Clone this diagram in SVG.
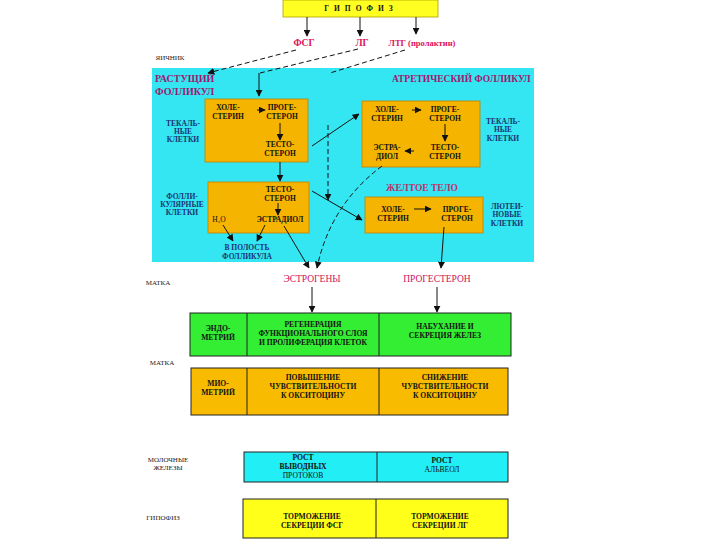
<svg xmlns="http://www.w3.org/2000/svg" width="720" height="540" viewBox="0 0 720 540">
<style>
text{font-family:"Liberation Serif","Times New Roman",serif;text-anchor:middle;font-weight:bold}
.s{font-size:7.5px;fill:#111}
.t{font-size:7.6px;fill:#111}
.n{font-size:7.5px;fill:#1a3470}
.lab{font-size:7px;fill:#222;font-weight:normal}
.h{font-size:9.5px;fill:#e0105a}
.p{font-size:10px;fill:#a0186e;text-anchor:start}
.m{font-size:9.5px;fill:#d0105a;font-weight:normal}
.box{fill:#f5b400;stroke:#c08000;stroke-width:0.8}
.ln{stroke:#111;stroke-width:1;fill:none}
.dl{stroke:#111;stroke-width:1;fill:none;stroke-dasharray:5 3}
.tb{stroke:#222;stroke-width:1}
</style>
<defs>
<marker id="a" viewBox="0 0 10 10" refX="9" refY="5" markerWidth="7" markerHeight="7" markerUnits="userSpaceOnUse" orient="auto"><path d="M0,0L10,5L0,10z" fill="#111"/></marker>
</defs>
<rect width="720" height="540" fill="#fff"/>

<g id="gipofiz">
<rect x="283" y="0" width="155" height="17" fill="#ffff22" stroke="#b0a000" stroke-width="0.8"/>
<text class="s" x="361" y="11" letter-spacing="5">ГИПОФИЗ</text>
</g>
<g id="hormones">
<text class="h" x="304" y="46">ФСГ</text>
<text class="h" x="362" y="46">ЛГ</text>
<text class="h" x="422" y="46" style="font-size:8.5px">ЛТГ (пролактин)</text>
</g>
<text class="lab" x="170" y="60">ЯИЧНИК</text>

<g id="ovary">
<rect x="152" y="68" width="382" height="194" fill="#33e6f2"/>
<text class="p" x="155" y="82">РАСТУЩИЙ</text>
<text class="p" x="155" y="95">ФОЛЛИКУЛ</text>
<text class="p" x="392" y="82" style="font-size:9.5px">АТРЕТИЧЕСКИЙ ФОЛЛИКУЛ</text>
</g>

<g id="theca1">
<rect class="box" x="205" y="99" width="103" height="63"/>
<text class="s" x="228" y="110">ХОЛЕ-</text>
<text class="s" x="228" y="119">СТЕРИН</text>
<text class="s" x="282" y="110">ПРОГЕ-</text>
<text class="s" x="282" y="119">СТЕРОН</text>
<text class="s" x="280" y="147">ТЕСТО-</text>
<text class="s" x="280" y="156">СТЕРОН</text>
<text class="n" x="183" y="126">ТЕКАЛЬ-</text>
<text class="n" x="183" y="134">НЫЕ</text>
<text class="n" x="183" y="142">КЛЕТКИ</text>
</g>

<g id="foll">
<rect class="box" x="208" y="182" width="101" height="51"/>
<text class="s" x="280" y="192">ТЕСТО-</text>
<text class="s" x="280" y="201">СТЕРОН</text>
<text class="s" x="219" y="222" style="font-weight:normal">H₂O</text>
<text class="s" x="280" y="222">ЭСТРАДИОЛ</text>
<text class="n" x="182" y="199">ФОЛЛИ-</text>
<text class="n" x="182" y="207">КУЛЯРНЫЕ</text>
<text class="n" x="182" y="215">КЛЕТКИ</text>
<text class="n" x="247" y="250">В ПОЛОСТЬ</text>
<text class="n" x="247" y="259">ФОЛЛИКУЛА</text>
</g>

<g id="atretic">
<rect class="box" x="362" y="101" width="118" height="66"/>
<text class="s" x="387" y="112">ХОЛЕ-</text>
<text class="s" x="387" y="121">СТЕРИН</text>
<text class="s" x="445" y="112">ПРОГЕ-</text>
<text class="s" x="445" y="121">СТЕРОН</text>
<text class="s" x="445" y="150">ТЕСТО-</text>
<text class="s" x="445" y="159">СТЕРОН</text>
<text class="s" x="387" y="150">ЭСТРА-</text>
<text class="s" x="387" y="159">ДИОЛ</text>
<text class="n" x="503" y="124">ТЕКАЛЬ-</text>
<text class="n" x="503" y="132">НЫЕ</text>
<text class="n" x="503" y="141">КЛЕТКИ</text>
</g>

<g id="luteum">
<text class="p" x="422" y="191" style="text-anchor:middle;font-size:9.5px;fill:#c0306a">ЖЕЛТОЕ ТЕЛО</text>
<rect class="box" x="365" y="197" width="118" height="36"/>
<text class="s" x="393" y="212">ХОЛЕ-</text>
<text class="s" x="393" y="221">СТЕРИН</text>
<text class="s" x="457" y="212">ПРОГЕ-</text>
<text class="s" x="457" y="221">СТЕРОН</text>
<text class="n" x="507" y="209">ЛЮТЕИ-</text>
<text class="n" x="507" y="217">НОВЫЕ</text>
<text class="n" x="507" y="226">КЛЕТКИ</text>
</g>

<g id="products">
<text class="m" x="312" y="282">ЭСТРОГЕНЫ</text>
<text class="m" x="437" y="282">ПРОГЕСТЕРОН</text>
</g>

<text class="lab" x="158" y="285">МАТКА</text>
<text class="lab" x="162" y="365">МАТКА</text>

<g id="endometrium">
<rect x="190" y="313" width="321" height="43" fill="#33ee33" class="tb"/>
<line class="tb" x1="247" y1="313" x2="247" y2="356"/>
<line class="tb" x1="379" y1="313" x2="379" y2="356"/>
<text class="t" x="218" y="331">ЭНДО-</text>
<text class="t" x="218" y="340">МЕТРИЙ</text>
<text class="t" x="313" y="327">РЕГЕНЕРАЦИЯ</text>
<text class="t" x="313" y="336">ФУНКЦИОНАЛЬНОГО СЛОЯ</text>
<text class="t" x="313" y="345">И ПРОЛИФЕРАЦИЯ КЛЕТОК</text>
<text class="t" x="445" y="329">НАБУХАНИЕ И</text>
<text class="t" x="445" y="338">СЕКРЕЦИЯ ЖЕЛЕЗ</text>
</g>

<g id="myometrium">
<rect x="191" y="368" width="317" height="47" fill="#f8bb00" class="tb"/>
<line class="tb" x1="247" y1="368" x2="247" y2="415"/>
<line class="tb" x1="379" y1="368" x2="379" y2="415"/>
<text class="t" x="218" y="386">МИО-</text>
<text class="t" x="218" y="395">МЕТРИЙ</text>
<text class="t" x="313" y="380">ПОВЫШЕНИЕ</text>
<text class="t" x="313" y="389">ЧУВСТВИТЕЛЬНОСТИ</text>
<text class="t" x="313" y="398">К ОКСИТОЦИНУ</text>
<text class="t" x="445" y="380">СНИЖЕНИЕ</text>
<text class="t" x="445" y="389">ЧУВСТВИТЕЛЬНОСТИ</text>
<text class="t" x="445" y="398">К ОКСИТОЦИНУ</text>
</g>

<text class="lab" x="168" y="462">МОЛОЧНЫЕ</text>
<text class="lab" x="168" y="470">ЖЕЛЕЗЫ</text>
<g id="mammary">
<rect x="244" y="452" width="264" height="30" fill="#22eef5" class="tb"/>
<line class="tb" x1="377" y1="452" x2="377" y2="482"/>
<text class="t" x="303" y="460">РОСТ</text>
<text class="t" x="303" y="469">ВЫВОДНЫХ</text>
<text class="t" x="303" y="478" style="font-weight:normal">ПРОТОКОВ</text>
<text class="t" x="442" y="463">РОСТ</text>
<text class="t" x="442" y="472" style="font-weight:normal">АЛЬВЕОЛ</text>
</g>

<text class="lab" x="163" y="520">ГИПОФИЗ</text>
<g id="pituitary-row">
<rect x="243" y="499" width="265" height="39" fill="#ffff1a" class="tb"/>
<line class="tb" x1="376" y1="499" x2="376" y2="538"/>
<text class="t" x="312" y="519">ТОРМОЖЕНИЕ</text>
<text class="t" x="312" y="528">СЕКРЕЦИИ ФСГ</text>
<text class="t" x="440" y="519">ТОРМОЖЕНИЕ</text>
<text class="t" x="440" y="528">СЕКРЕЦИИ ЛГ</text>
</g>

<g id="connectors">
<line class="ln" x1="307" y1="17" x2="307" y2="36" marker-end="url(#a)"/>
<line class="ln" x1="360" y1="17" x2="360" y2="36" marker-end="url(#a)"/>
<line class="ln" x1="416" y1="17" x2="416" y2="34" marker-end="url(#a)"/>
<line class="dl" x1="296" y1="50" x2="208" y2="73" marker-end="url(#a)"/>
<polyline class="dl" points="358,49 260,73"/>
<line class="ln" x1="259" y1="73" x2="259" y2="96" marker-end="url(#a)"/>
<line class="dl" x1="405" y1="50" x2="330" y2="73"/>
<line class="ln" x1="257" y1="110" x2="265" y2="110" marker-end="url(#a)"/>
<line class="ln" x1="280" y1="123" x2="280" y2="140" marker-end="url(#a)"/>
<line class="ln" x1="280" y1="162" x2="280" y2="181" marker-end="url(#a)"/>
<line class="ln" x1="278" y1="203" x2="278" y2="215" marker-end="url(#a)"/>
<line class="ln" x1="312" y1="146" x2="359" y2="114" marker-end="url(#a)"/>
<line class="dl" x1="328" y1="125" x2="328" y2="200" marker-end="url(#a)"/>
<line class="ln" x1="312" y1="191" x2="362" y2="220" marker-end="url(#a)"/>
<line class="ln" x1="412" y1="110" x2="421" y2="110" marker-end="url(#a)"/>
<line class="ln" x1="445" y1="124" x2="445" y2="141" marker-end="url(#a)"/>
<line class="ln" x1="414" y1="151" x2="405" y2="151" marker-end="url(#a)"/>
<line class="ln" x1="414" y1="209" x2="431" y2="209" marker-end="url(#a)"/>
<line class="ln" x1="223" y1="225" x2="233" y2="241" marker-end="url(#a)"/>
<line class="ln" x1="265" y1="225" x2="257" y2="241" marker-end="url(#a)"/>
<line class="ln" x1="284" y1="226" x2="309" y2="268" marker-end="url(#a)"/>
<path class="dl" d="M382,166 Q330,205 317,268" marker-end="url(#a)"/>
<line class="ln" x1="444" y1="227" x2="441" y2="268" marker-end="url(#a)"/>
<line class="ln" x1="312" y1="287" x2="312" y2="312" marker-end="url(#a)"/>
<line class="ln" x1="437" y1="287" x2="437" y2="312" marker-end="url(#a)"/>
</g>
</svg>
